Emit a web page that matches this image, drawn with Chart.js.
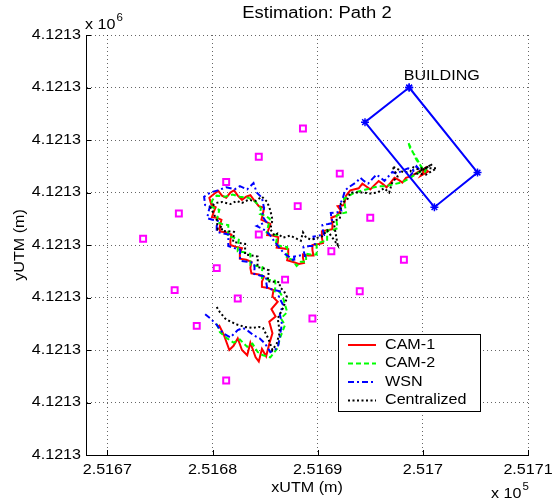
<!DOCTYPE html>
<html>
<head>
<meta charset="utf-8">
<script src="https://cdn.jsdelivr.net/npm/chart.js@4.4.0/dist/chart.umd.min.js"></script>
<style>
  html, body { margin: 0; padding: 0; background: #fff; }
  canvas { display: block; }
</style>
</head>
<body>
<canvas id="chart" width="552" height="500"></canvas>
<script>
// plot origin in UTM, every value below is metres from it
var X0 = 251670;
var Y0 = 4121290;

var xTicks = [0, 10, 20, 30, 40];                  // 2.5167 .. 2.5171 (x 10^5)
var yTicks = [0, 5, 10, 15, 20, 25, 30, 35, 40];   // all read 4.1213 (x 10^6)

var seriesNames = ['CAM-1', 'CAM-2', 'WSN', 'Centralized'];

var cam1 = [
  [10.6,12.4],[11.1,11.4],[11.6,10.0],[12.0,10.4],[12.4,11.1],[12.8,10.0],[13.3,9.5],[13.6,10.7],
  [14.1,9.3],[14.4,8.9],[14.7,10.1],[15.1,9.4],[15.4,10.6],[15.7,11.6],[15.4,12.7],[16.0,13.2],
  [15.6,13.9],[16.2,14.6],[15.7,15.1],[15.8,15.7],[15.3,15.9],[14.7,16.0],[14.7,16.5],[14.9,17.0],
  [14.4,17.2],[13.7,17.3],[13.6,17.8],[13.7,18.4],[13.2,18.6],[12.6,18.7],[12.6,19.2],[12.8,19.7],
  [12.3,19.8],[11.7,20.0],[11.7,20.5],[11.8,21.0],[11.3,21.2],[10.7,21.3],[10.7,21.8],[10.85,22.4],
  [10.4,22.6],[9.95,22.65],[10.1,23.1],[10.3,23.6],[9.9,23.8],[9.7,24.5],[10.2,24.9],[10.55,25.15],
  [10.9,24.7],[11.3,24.5],[11.7,25.0],[12.05,25.2],[12.4,24.7],[12.8,24.3],[13.2,24.6],[13.6,24.75],
  [14.0,24.2],[14.4,23.7],[14.9,23.55],[14.8,23.0],[14.65,22.4],[15.1,22.2],[15.5,22.0],[15.3,21.4],
  [15.2,20.95],[15.7,20.9],[16.25,20.75],[16.2,20.2],[16.1,19.75],[16.6,19.7],[17.2,19.6],[17.2,19.1],
  [17.1,18.55],[17.6,18.4],[18.2,18.2],[18.7,18.3],[18.6,18.8],[18.6,19.1],[19.1,19.0],[19.6,19.0],
  [19.5,19.5],[19.5,20.0],[20.1,20.1],[20.5,20.2],[20.4,20.7],[20.4,21.3],[20.9,21.4],[21.4,21.5],
  [21.4,22.0],[21.3,22.6],[21.8,22.8],[22.2,23.3],[21.9,23.7],[22.5,23.8],[22.7,24.7],[23.1,25.2],
  [23.9,25.4],[24.25,25.85],[24.6,25.6],[25.0,25.3],[25.4,25.7],[25.8,26.1],[26.2,25.8],[26.55,25.5],
  [26.9,25.9],[27.3,26.4],[27.7,26.2],[28.05,25.95],[28.4,26.4],[29.0,26.6],[29.6,27.0],[30.2,27.3],
  [30.5,27.0],[29.8,26.6],[30.4,27.5]
];

var cam2 = [
  [10.4,12.5],[10.7,11.7],[11.4,11.1],[12.0,10.7],[12.6,11.0],[13.3,10.3],[13.8,10.6],[14.3,9.8],
  [14.8,9.5],[15.5,9.3],[16.2,10.2],[16.4,11.1],[16.9,12.4],[16.5,13.0],[17.1,13.6],[16.7,15.0],
  [16.4,15.5],[15.9,15.6],[16.0,16.1],[15.95,16.6],[15.3,16.7],[14.7,16.85],[14.7,17.4],[14.75,17.9],
  [14.2,18.0],[13.6,18.1],[13.6,18.6],[13.6,19.15],[13.0,19.3],[12.4,19.4],[12.4,19.9],[12.5,20.5],
  [12.0,20.7],[11.45,20.85],[11.5,21.4],[11.5,21.9],[10.9,22.0],[10.4,22.2],[10.5,22.8],[10.65,23.35],
  [10.2,23.5],[9.8,23.7],[10.0,24.3],[10.4,24.7],[11.2,24.6],[11.9,24.8],[12.6,24.6],[13.4,24.5],
  [14.1,24.1],[14.6,23.5],[14.5,22.95],[15.0,22.8],[15.45,22.5],[15.3,21.8],[15.15,21.2],[15.6,21.0],
  [16.15,20.95],[16.1,20.5],[16.0,20.0],[16.5,19.9],[17.1,19.8],[17.1,19.3],[17.05,18.75],[17.6,18.6],
  [18.0,18.0],[18.4,18.4],[18.9,18.4],[18.9,18.8],[18.8,19.2],[19.3,19.1],[19.9,19.1],[19.9,19.5],
  [19.9,20.1],[20.4,20.3],[20.9,20.4],[20.9,20.9],[20.9,21.4],[21.4,21.4],[21.9,21.6],[21.8,22.2],
  [21.8,22.8],[22.3,23.0],[22.7,23.1],[22.6,23.7],[22.5,24.4],[23.0,24.7],[23.5,25.0],[24.3,25.2],
  [25.0,25.4],[25.8,25.6],[26.5,25.6],[27.3,25.8],[28.1,26.0],[28.8,26.4],[29.4,26.8],[30.0,27.1],
  [29.6,27.9],[29.2,28.6],[28.8,29.2],[28.6,29.8],[29.4,28.1],[30.2,27.0],[30.5,27.6]
];

var wsn = [
  [9.3,13.4],[9.8,13.0],[10.4,12.4],[11.0,11.6],[11.7,11.2],[12.4,11.9],[12.9,12.1],[13.4,11.8],
  [13.9,11.4],[14.5,11.1],[15.0,10.6],[15.5,9.8],[16.2,10.2],[16.4,11.3],[16.6,12.5],[16.4,13.4],
  [16.7,14.3],[16.3,15.1],[16.4,15.6],[15.9,15.7],[15.2,15.9],[15.1,16.5],[15.1,17.0],[14.5,17.1],
  [13.95,17.25],[14.0,17.8],[13.95,18.3],[13.3,18.4],[12.65,18.5],[12.6,19.0],[12.65,19.55],[12.1,19.7],
  [11.5,19.9],[11.5,20.5],[11.55,21.0],[11.0,21.1],[10.4,21.25],[10.4,21.8],[10.5,22.3],[10.0,22.4],
  [9.5,22.55],[9.6,23.1],[9.75,23.65],[9.3,23.8],[9.2,24.6],[9.8,25.0],[10.5,25.2],[11.3,25.5],
  [12.1,25.3],[12.6,25.6],[13.3,25.3],[13.9,25.9],[14.2,25.0],[14.7,24.5],[14.9,23.5],[14.7,22.8],
  [15.1,22.2],[14.2,21.8],[15.0,21.4],[15.5,20.9],[15.9,20.3],[16.4,19.7],[16.8,19.2],[17.4,18.8],
  [17.8,18.4],[17.75,18.9],[18.3,19.0],[18.8,18.95],[18.7,19.3],[18.65,19.8],[19.2,19.9],[19.75,19.9],
  [19.7,20.3],[19.6,20.8],[20.1,20.9],[20.6,20.95],[20.5,21.4],[20.45,21.9],[21.0,22.0],[21.45,22.1],
  [21.3,22.6],[21.25,23.05],[21.8,23.1],[22.25,23.25],[22.1,23.8],[22.4,24.5],[22.6,25.2],[23.1,25.6],
  [23.7,26.0],[24.05,26.4],[24.4,26.1],[24.8,25.85],[25.2,26.3],[25.6,26.7],[26.0,26.4],[26.35,26.1],
  [26.7,26.5],[27.1,26.95],[27.5,26.8],[28.1,27.1],[28.6,27.3],[29.2,27.1],[28.8,26.6],[29.4,27.5],
  [29.8,27.0]
];

var centralized = [
  [10.4,14.1],[10.7,13.6],[11.2,13.0],[11.7,12.7],[12.4,12.4],[13.1,12.2],[13.8,12.1],[14.4,12.2],
  [14.8,12.1],[15.3,11.1],[15.7,10.0],[16.1,10.6],[16.4,11.7],[16.2,13.0],[16.7,14.0],[17.1,15.0],
  [16.8,15.6],[16.4,16.0],[16.4,16.45],[15.8,16.5],[15.25,16.55],[15.3,17.0],[15.35,17.6],[14.8,17.8],
  [14.25,17.9],[14.3,18.4],[14.3,18.9],[13.7,19.0],[13.1,19.1],[13.1,19.6],[13.1,20.1],[12.5,20.2],
  [11.95,20.3],[12.0,20.8],[12.05,21.25],[11.5,21.3],[10.9,21.35],[10.9,21.8],[10.5,21.5],[10.4,22.4],
  [10.1,23.0],[9.8,23.6],[10.3,24.0],[10.9,24.1],[11.7,23.9],[12.3,24.2],[12.8,24.0],[13.4,24.3],
  [14.1,24.2],[14.7,24.6],[15.2,24.1],[15.5,23.3],[15.7,22.4],[15.5,21.5],[15.9,20.9],[16.2,21.1],
  [16.7,20.7],[17.4,20.9],[18.0,20.6],[18.4,20.4],[18.6,21.2],[18.9,20.7],[19.4,20.5],[20.0,20.7],
  [20.4,20.8],[20.9,21.4],[21.9,20.0],[21.5,22.3],[22.1,22.5],[22.2,23.2],[22.2,23.95],[22.8,24.3],
  [23.1,25.0],[23.7,25.0],[24.3,25.0],[25.0,24.9],[25.7,25.0],[26.3,25.4],[26.8,25.0],[27.1,26.0],
  [27.6,26.5],[27.1,27.5],[28.2,26.9],[28.8,27.0],[29.1,27.4],[29.8,27.1],[30.9,27.7],[29.4,26.8],
  [30.3,26.7],[31.3,27.3],[29.6,27.3]
];

// magenta square markers
var nodes = [
  [18.6,31.1],[14.4,28.4],[11.3,26.0],[22.1,26.8],[6.8,23.0],[18.1,23.7],[25.0,22.6],[3.4,20.6],
  [14.4,21.0],[21.3,19.4],[10.4,17.8],[28.2,18.6],[16.9,16.7],[6.4,15.7],[12.4,14.9],[24.0,15.6],
  [19.5,13.0],[8.5,12.3],[11.3,7.1]
];

// building outline, closed
var building = [[28.7,35.0],[35.2,26.9],[31.1,23.6],[24.5,31.7],[28.7,35.0]];
var buildingLabel = [31.8, 36.1];

var STRETCH = 1.15;
var FONT = '"Liberation Sans", Arial, Helvetica, sans-serif';

function xy(list) {
  return list.map(function (p) { return { x: p[0], y: p[1] }; });
}

function txt(ctx, s, x, y, size, align, rot) {
  ctx.save();
  ctx.translate(x, y);
  if (rot) ctx.rotate(rot);
  ctx.scale(STRETCH, 1);
  ctx.font = size + 'px ' + FONT;
  ctx.textAlign = align || 'center';
  ctx.textBaseline = 'middle';
  ctx.fillStyle = '#000';
  ctx.fillText(s, 0, 0);
  var w = ctx.measureText(s).width * STRETCH;
  ctx.restore();
  return w;
}

function xLabel(v) { return String(+((X0 + v) / 1e5).toFixed(4)); }
function yLabel(v) { return ((Y0 + v) / 1e6).toFixed(4); }

// MATLAB-like decorations: inward ticks, tick labels, exponents, titles, legend
var matlabAxes = {
  id: 'matlabAxes',
  afterDraw: function (chart) {
    var ctx = chart.ctx;
    var ca = chart.chartArea;
    var sx = chart.scales.x, sy = chart.scales.y;

    ctx.save();
    ctx.strokeStyle = '#000';
    ctx.lineWidth = 1;
    ctx.beginPath();
    sx.ticks.forEach(function (t) {
      var px = Math.round(sx.getPixelForValue(t.value)) + 0.5;
      ctx.moveTo(px, ca.bottom); ctx.lineTo(px, ca.bottom - 5);
    });
    sy.ticks.forEach(function (t) {
      var py = Math.round(sy.getPixelForValue(t.value)) + 0.5;
      ctx.moveTo(ca.left, py); ctx.lineTo(ca.left + 5, py);
    });
    ctx.stroke();
    ctx.restore();

    sx.ticks.forEach(function (t) {
      txt(ctx, xLabel(t.value), sx.getPixelForValue(t.value), ca.bottom + 15, 14, 'center');
    });
    sy.ticks.forEach(function (t) {
      txt(ctx, yLabel(t.value), ca.left - 5, sy.getPixelForValue(t.value), 14, 'right');
    });

    // exponents
    var w = txt(ctx, 'x 10', ca.left - 1, ca.top - 10, 14, 'left');
    txt(ctx, '6', ca.left - 1 + w + 1, ca.top - 17, 10, 'left');
    w = txt(ctx, 'x 10', ca.right - 37, ca.bottom + 39, 14, 'left');
    txt(ctx, '5', ca.right - 37 + w + 1, ca.bottom + 32, 10, 'left');

    txt(ctx, 'Estimation: Path 2', (ca.left + ca.right) / 2 + 10, 14, 16, 'center');
    txt(ctx, 'xUTM (m)', (ca.left + ca.right) / 2, ca.bottom + 33, 14, 'center');
    txt(ctx, 'yUTM (m)', 20, (ca.top + ca.bottom) / 2, 14, 'center', -Math.PI / 2);
    txt(ctx, 'BUILDING', sx.getPixelForValue(buildingLabel[0]), sy.getPixelForValue(buildingLabel[1]), 14, 'center');

    // legend box
    var lx = ca.right - 190, ly = ca.bottom - 121, lw = 142, lh = 77;
    ctx.save();
    ctx.fillStyle = '#fff';
    ctx.fillRect(lx, ly, lw, lh);
    ctx.strokeStyle = '#000';
    ctx.lineWidth = 1;
    ctx.strokeRect(lx + 0.5, ly + 0.5, lw, lh);
    ctx.restore();
    for (var i = 0; i < 4; i++) {
      var ds = chart.data.datasets[i];
      var yy = ly + 11 + i * 18.5;
      ctx.save();
      ctx.strokeStyle = ds.borderColor;
      ctx.lineWidth = ds.borderWidth;
      ctx.setLineDash(ds.borderDash || []);
      ctx.beginPath();
      ctx.moveTo(lx + 10, yy); ctx.lineTo(lx + 38, yy);
      ctx.stroke();
      ctx.restore();
      txt(ctx, ds.label, lx + 47, yy, 14, 'left');
    }
  }
};

function pathSet(label, data, color, dash, order) {
  return {
    label: label, data: xy(data), showLine: true, borderColor: color,
    backgroundColor: color, borderWidth: 2, borderDash: dash,
    pointRadius: 0, tension: 0, fill: false, order: order
  };
}

new Chart(document.getElementById('chart'), {
  type: 'scatter',
  data: {
    datasets: [
      pathSet(seriesNames[0], cam1, '#ff0000', [], 5),
      pathSet(seriesNames[1], cam2, '#00ff00', [5, 3], 4),
      pathSet(seriesNames[2], wsn, '#0000ff', [6, 3, 2, 3], 3),
      pathSet(seriesNames[3], centralized, '#000000', [2, 2.5], 2),
      {
        label: 'nodes', data: xy(nodes), showLine: false, pointStyle: 'rect',
        pointRadius: 4.2, borderColor: '#ff00ff', backgroundColor: 'rgba(0,0,0,0)',
        pointBorderWidth: 2, order: 6
      },
      {
        label: 'building', data: xy(building), showLine: true, borderColor: '#0000ff',
        backgroundColor: '#0000ff', borderWidth: 2, pointStyle: 'star', pointRadius: 4,
        pointBorderWidth: 1.5, order: 1
      }
    ]
  },
  options: {
    responsive: false,
    animation: false,
    devicePixelRatio: 1,
    layout: { padding: { left: 0, right: 24, top: 35, bottom: 0 } },
    plugins: { legend: { display: false }, tooltip: { enabled: false }, title: { display: false } },
    scales: {
      x: {
        type: 'linear', min: -2.03, max: 40,
        afterBuildTicks: function (s) { s.ticks = xTicks.map(function (v) { return { value: v }; }); },
        afterFit: function (s) { s.height = 45; },
        ticks: { display: false },
        grid: { color: 'rgba(0,0,0,0.6)', drawTicks: false, lineWidth: 1 },
        border: { display: true, color: '#000', width: 1, dash: [1, 3] }
      },
      y: {
        type: 'linear', min: 0, max: 40,
        afterBuildTicks: function (s) { s.ticks = yTicks.map(function (v) { return { value: v }; }); },
        afterFit: function (s) { s.width = 86; },
        ticks: { display: false },
        grid: { color: 'rgba(0,0,0,0.6)', drawTicks: false, lineWidth: 1 },
        border: { display: true, color: '#000', width: 1, dash: [1, 3] }
      }
    }
  },
  plugins: [matlabAxes]
});
</script>
</body>
</html>
